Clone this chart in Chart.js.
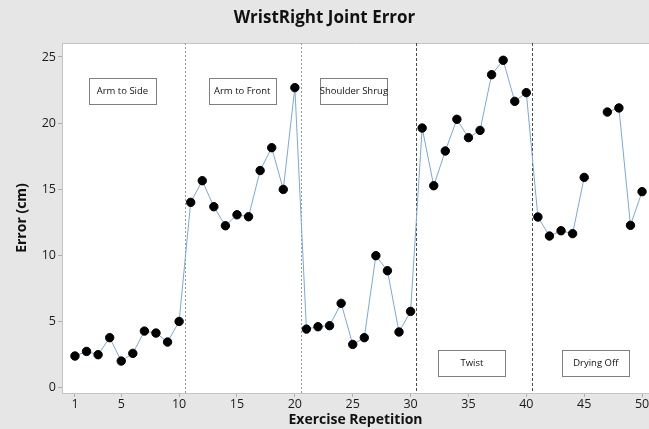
<!DOCTYPE html>
<html>
<head>
<meta charset="utf-8">
<script src="https://cdn.jsdelivr.net/npm/chart.js@4.4.1/dist/chart.umd.min.js"></script>
<style>
  html, body { margin: 0; padding: 0; background: #e6e6e6; }
  #wrap { width: 649px; height: 429px; }
</style>
</head>
<body>
<div id="wrap"><canvas id="c" width="649" height="429"></canvas></div>
<script>
// ---- Data ----
const repetitions = [1,2,3,4,5,6,7,8,9,10,11,12,13,14,15,16,17,18,19,20,21,22,23,24,25,26,27,28,29,30,31,32,33,34,35,36,37,38,39,40,41,42,43,44,45,46,47,48,49,50];
const errorCm = [2.35,2.7,2.45,3.74,1.97,2.55,4.24,4.09,3.41,4.97,
                 13.99,15.63,13.66,12.22,13.05,12.9,16.4,18.13,14.97,22.68,
                 4.39,4.57,4.65,6.34,3.23,3.74,9.95,8.81,4.17,5.73,
                 19.62,15.25,17.88,20.28,18.89,19.44,23.66,24.75,21.64,22.3,
                 12.88,11.44,11.84,11.62,15.88,null,20.83,21.14,12.25,14.8];
const xTickValues = [1,5,10,15,20,25,30,35,40,45,50];
const yTickValues = [0,5,10,15,20,25];
const phaseBoundaries = [10.5,20.5,30.5,40.5];
const phaseLabels = ["Arm to Side","Arm to Front","Shoulder Shrug","Twist","Drying Off"];
const phaseLabelX = [5.1,15.45,25.1,35.3,46.0];
const phaseLabelY = [22.4,22.4,22.4,1.8,1.8];

const FONT = "'Open Sans', 'Noto Sans', sans-serif";

const points = repetitions.map((r,i) => ({x: r, y: errorCm[i]}));

const decor = {
  id: 'decor',
  beforeDraw(chart) {
    const {ctx, chartArea: a} = chart;
    ctx.save();
    ctx.fillStyle = '#e6e6e6';
    ctx.fillRect(0, 0, chart.width, chart.height);
    ctx.fillStyle = '#ffffff';
    ctx.fillRect(a.left, a.top, a.right - a.left, a.bottom - a.top);
    ctx.restore();
  },
  beforeDatasetsDraw(chart) {
    const {ctx, chartArea: a, scales} = chart;
    const xs = scales.x, ys = scales.y;
    ctx.save();
    // plot border (top)
    ctx.strokeStyle = '#c4c4c4';
    ctx.lineWidth = 1;
    ctx.beginPath();
    ctx.moveTo(a.left, a.top + 0.5);
    ctx.lineTo(a.right, a.top + 0.5);
    ctx.stroke();
    // phase boundaries
    phaseBoundaries.forEach((b, i) => {
      const px = Math.round(xs.getPixelForValue(b)) + 0.5;
      ctx.strokeStyle = i < 2 ? '#9a9a9a' : '#4a4a4a';
      ctx.setLineDash(i < 2 ? [2, 2] : [3, 2]);
      ctx.beginPath();
      ctx.moveTo(px, a.top);
      ctx.lineTo(px, a.bottom);
      ctx.stroke();
    });
    ctx.setLineDash([]);
    // phase label boxes
    ctx.font = "9.5px " + FONT;
    ctx.textAlign = 'center';
    ctx.textBaseline = 'middle';
    phaseLabels.forEach((t, i) => {
      const cx = xs.getPixelForValue(phaseLabelX[i]);
      const cy = ys.getPixelForValue(phaseLabelY[i]);
      const w = 67, h = 26;
      ctx.fillStyle = '#ffffff';
      ctx.fillRect(cx - w/2, cy - h/2, w, h);
      ctx.strokeStyle = '#808080';
      ctx.strokeRect(Math.round(cx - w/2) + 0.5, Math.round(cy - h/2) + 0.5, w, h);
      ctx.fillStyle = '#111111';
      ctx.fillText(t, cx, cy);
    });
    ctx.restore();
  }
};

new Chart(document.getElementById('c'), {
  type: 'line',
  data: {
    datasets: [{
      data: points,
      borderColor: '#7aa9dd',
      borderWidth: 1,
      pointBackgroundColor: '#000000',
      pointBorderColor: '#000000',
      pointRadius: 4.2,
      pointHoverRadius: 4.2,
      spanGaps: false,
      tension: 0
    }]
  },
  options: {
    responsive: false,
    animation: false,
    devicePixelRatio: 1,
    layout: { padding: 0, autoPadding: false },
    plugins: {
      legend: { display: false },
      tooltip: { enabled: false },
      title: {
        display: true,
        text: 'WristRight Joint Error',
        color: '#111111',
        font: { family: FONT, size: 17, weight: 'bold' },
        padding: { top: 8, bottom: 14.6 }
      }
    },
    scales: {
      x: {
        type: 'linear',
        min: -0.12,
        max: 50.6,
        afterBuildTicks(s) { s.ticks = xTickValues.map(v => ({value: v})); },
        afterFit(s) { s.height = 36; s.paddingLeft = 0; s.paddingRight = 0; },
        grid: { drawOnChartArea: false, drawTicks: true, tickLength: 4, color: '#b0b0b0' },
        border: { display: true, color: '#c4c4c4' },
        ticks: { color: '#1a1a1a', padding: 0, maxRotation: 0, autoSkip: false, font: { family: FONT, size: 12.5 } },
        title: { display: true, text: 'Exercise Repetition', color: '#111111', padding: { top: 0, bottom: 1 }, font: { family: FONT, size: 14, weight: 'bold' } }
      },
      y: {
        type: 'linear',
        min: -0.45,
        max: 26.06,
        afterBuildTicks(s) { s.ticks = yTickValues.map(v => ({value: v})); },
        afterFit(s) { s.width = 62; s.paddingTop = 0; s.paddingBottom = 0; },
        grid: { drawOnChartArea: false, drawTicks: true, tickLength: 4, color: '#b0b0b0' },
        border: { display: true, color: '#c4c4c4' },
        ticks: { color: '#1a1a1a', padding: 2, font: { family: FONT, size: 12.5 } },
        title: { display: true, text: 'Error (cm)', color: '#111111', padding: { top: 14, bottom: 0 }, font: { family: FONT, size: 14, weight: 'bold' } }
      }
    }
  },
  plugins: [decor]
});
</script>
</body>
</html>
